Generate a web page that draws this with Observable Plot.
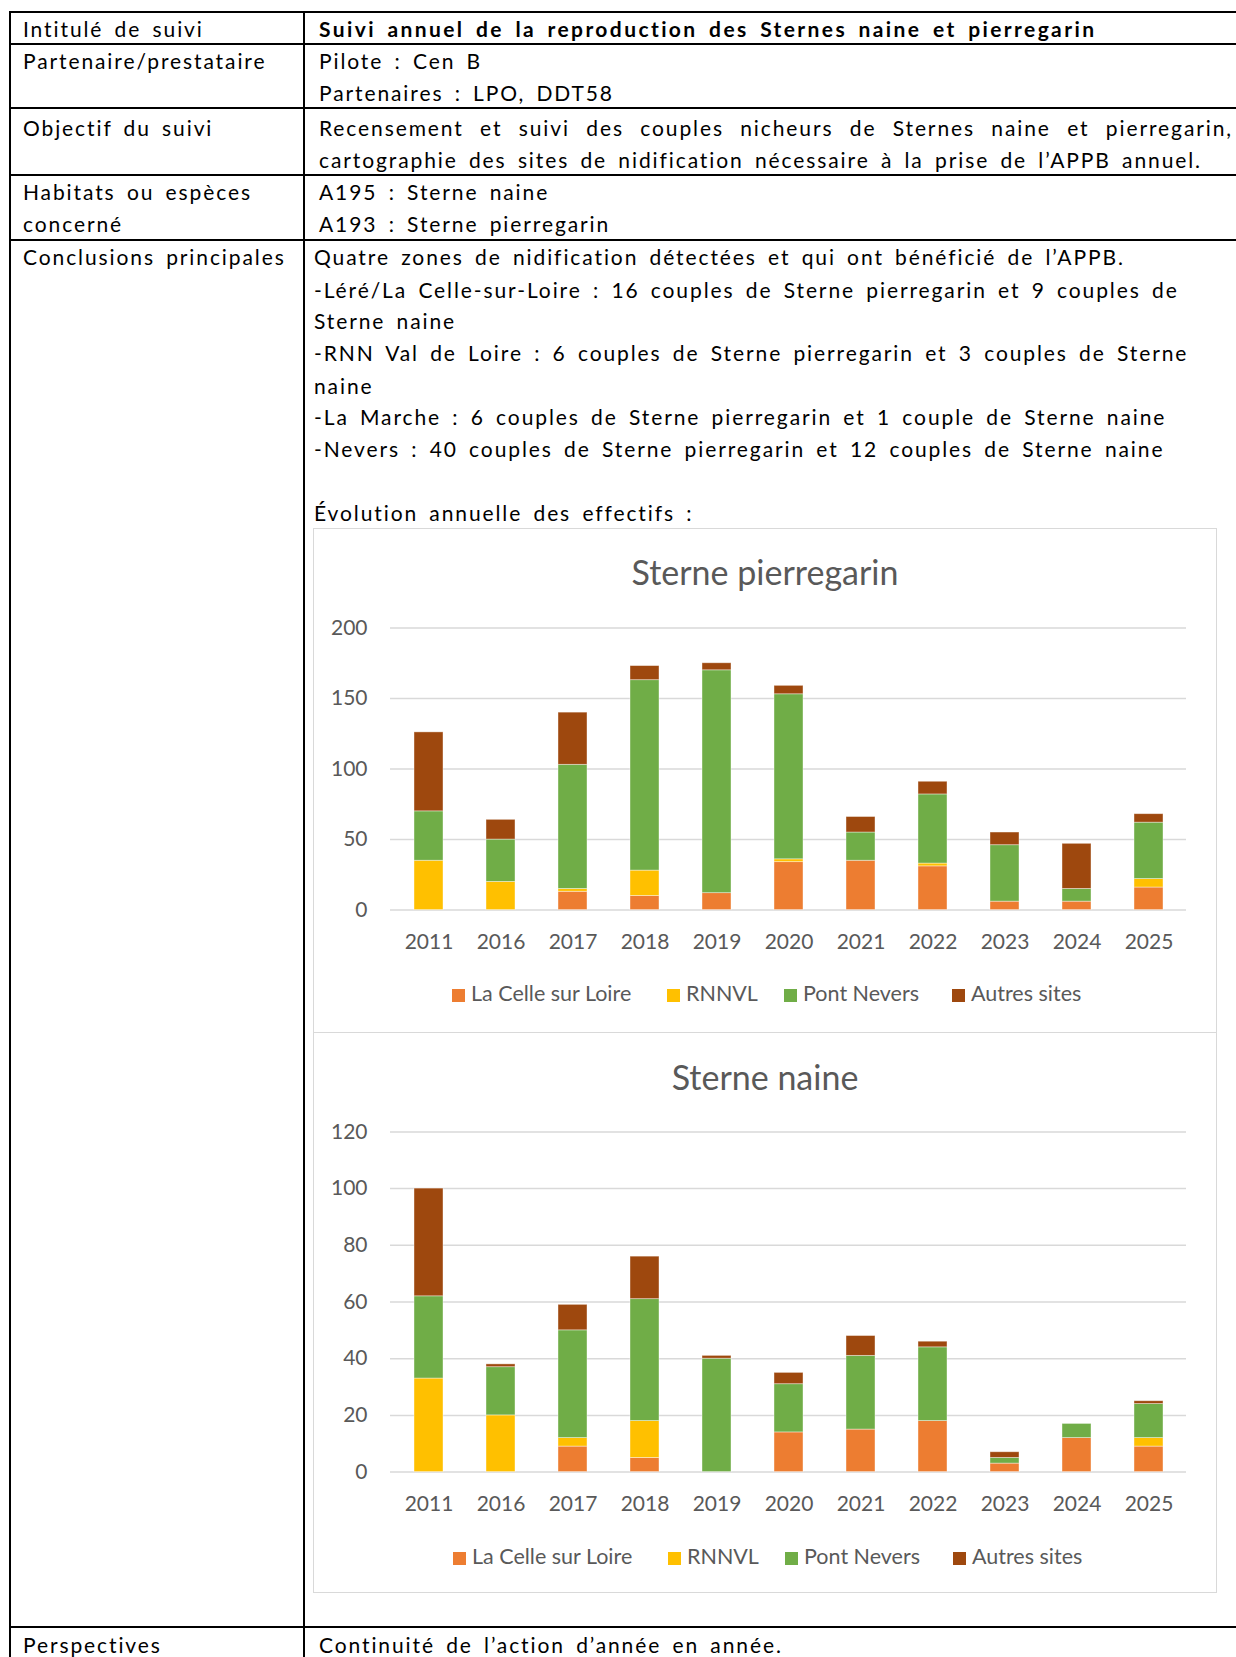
<!DOCTYPE html>
<html>
<head>
<meta charset="utf-8">
<script src="https://cdn.jsdelivr.net/npm/d3@7"></script>
<script src="https://cdn.jsdelivr.net/npm/@observablehq/plot@0.6"></script>
<style>
  html, body { margin: 0; padding: 0; background: #fff; }
  #page { position: relative; width: 1236px; height: 1657px; overflow: hidden; font-family: "Lato", sans-serif; color: #000; }
  .ln { position: absolute; height: 32px; line-height: 32px; font-size: 21px; letter-spacing: 1.9px; word-spacing: 4px; white-space: nowrap; }
  .hline { position: absolute; left: 9px; width: 1240px; height: 2px; background: #000; }
  .vline { position: absolute; width: 2px; background: #000; }
  .frame { position: absolute; border: 1.5px solid #d9d9d9; box-sizing: border-box; background: #fff; }
  .ctitle { position: absolute; left: 313px; width: 904px; text-align: center; font-family: "Lato", sans-serif; font-size: 34px; color: #595959; height: 40px; line-height: 40px; }
  .leg { position: absolute; height: 24px; line-height: 24px; font-family: "Lato", sans-serif; font-size: 21.5px; color: #595959; white-space: nowrap; }
  .leg span.sw { display: inline-block; width: 13px; height: 13px; margin-right: 6px; vertical-align: -1px; }
  .plot { position: absolute; left: 313px; }
</style>
</head>
<body>
<div id="page"></div>
<script>
// ---- data ----
const years = ["2011", "2016", "2017", "2018", "2019", "2020", "2021", "2022", "2023", "2024", "2025"];
const sites = ["La Celle sur Loire", "RNNVL", "Pont Nevers", "Autres sites"];
const siteColors = ["#ED7D31", "#FFC000", "#70AD47", "#9E480E"];

// Sterne pierregarin (couples)
const pierreCelle  = [0, 0, 13, 10, 12, 34, 35, 31, 6, 6, 16];
const pierreRNNVL  = [35, 20, 2, 18, 0, 2, 0, 2, 0, 0, 6];
const pierreNevers = [35, 30, 88, 135, 158, 117, 20, 49, 40, 9, 40];
const pierreAutres = [56, 14, 37, 10, 5, 6, 11, 9, 9, 32, 6];
const pierreTicks  = [0, 50, 100, 150, 200];

// Sterne naine (couples)
const naineCelle  = [0, 0, 9, 5, 0, 14, 15, 18, 3, 12, 9];
const naineRNNVL  = [33, 20, 3, 13, 0, 0, 0, 0, 0, 0, 3];
const naineNevers = [29, 17, 38, 43, 40, 17, 26, 26, 2, 5, 12];
const naineAutres = [38, 1, 9, 15, 1, 4, 7, 2, 2, 0, 1];
const naineTicks  = [0, 20, 40, 60, 80, 100, 120];

// ---- page text ----
const page = document.getElementById("page");
function add(html, cls, style) {
  const d = document.createElement("div");
  d.className = cls;
  d.innerHTML = html;
  Object.assign(d.style, style);
  page.appendChild(d);
  return d;
}
function line(text, x, cy, extra) {
  return add(text, "ln", Object.assign({ left: x + "px", top: (cy - 16) + "px" }, extra || {}));
}

// table lines
[12, 44, 108, 175, 240, 1627].forEach(y => add("", "hline", { top: (y - 1) + "px" }));
add("", "vline", { left: "8.5px", top: "11px", height: "1650px" });
add("", "vline", { left: "303px", top: "11px", height: "1650px" });

// left column
const LX = 23, RX = 319;
line("Intitulé de suivi", LX, 28.5);
line("Partenaire/prestataire", LX, 61.3);
line("Objectif du suivi", LX, 127.8);
line("Habitats ou espèces", LX, 192.3);
line("concerné", LX, 224);
line("Conclusions principales", LX, 256.7);
line("Perspectives", LX, 1645);

// right column
line("Suivi annuel de la reproduction des Sternes naine et pierregarin", RX, 28.5, { fontWeight: "bold", letterSpacing: "2.4px" });
line("Pilote : Cen B", RX, 61.3);
line("Partenaires : LPO, DDT58", RX, 93);
line("Recensement et suivi des couples nicheurs de Sternes naine et pierregarin,", RX, 127.8, { width: (1233 - RX) + "px", textAlign: "justify", textAlignLast: "justify" });
line("cartographie des sites de nidification nécessaire à la prise de l’APPB annuel.", RX, 159.5);
line("A195 : Sterne naine", RX, 192.3);
line("A193 : Sterne pierregarin", RX, 224);
const CX = 314;
line("Quatre zones de nidification détectées et qui ont bénéficié de l’APPB.", CX, 256.7);
line("-Léré/La Celle-sur-Loire : 16 couples de Sterne pierregarin et 9 couples de", CX, 289.5);
line("Sterne naine", CX, 321);
line("-RNN Val de Loire : 6 couples de Sterne pierregarin et 3 couples de Sterne", CX, 352.8);
line("naine", CX, 385.6);
line("-La Marche : 6 couples de Sterne pierregarin et 1 couple de Sterne naine", CX, 417.3);
line("-Nevers : 40 couples de Sterne pierregarin et 12 couples de Sterne naine", CX, 449);
line("Évolution annuelle des effectifs :", CX, 513.4);
line("Continuité de l’action d’année en année.", RX, 1645);

// chart frames
add("", "frame", { left: "313px", top: "528px", width: "904px", height: "505px" });
add("", "frame", { left: "313px", top: "1032px", width: "904px", height: "561px" });

// ---- charts ----
function tidy(a, b, c, d) {
  const rows = [];
  const series = [a, b, c, d];
  years.forEach((y, i) => sites.forEach((s, j) => rows.push({ year: y, site: s, value: series[j][i] })));
  return rows;
}

function chart(data, ticks, top, height, yZero, yMaxPix) {
  const marginTop = yMaxPix - top;
  const marginBottom = top + height - yZero;
  return Plot.plot({
    width: 904,
    height: height,
    marginLeft: 77,
    marginRight: 31,
    marginTop: marginTop,
    marginBottom: marginBottom,
    style: { fontFamily: "Lato, sans-serif", fontSize: "21px", color: "#595959", background: "transparent", overflow: "visible" },
    x: { domain: years, paddingInner: 0.6, paddingOuter: 0.3, label: null },
    y: { domain: [0, ticks[ticks.length - 1]], label: null },
    color: { domain: sites, range: siteColors },
    marks: [
      Plot.ruleY(ticks, { stroke: "#d9d9d9", strokeWidth: 1.5 }),
      Plot.barY(data, Plot.stackY({ x: "year", y: "value", fill: "site", order: sites, stroke: "#fff", strokeOpacity: 0.5, strokeWidth: 0.8 })),
      Plot.axisX({ tickSize: 0, tickPadding: 24, fill: "#595959" }),
      Plot.axisY({ ticks: ticks, tickSize: 0, tickPadding: 23, fill: "#595959" })
    ]
  });
}

function place(svg, top) {
  const wrap = document.createElement("div");
  wrap.className = "plot";
  wrap.style.top = top + "px";
  wrap.appendChild(svg);
  page.appendChild(wrap);
}

const c1top = 600, c1h = 360;
place(chart(tidy(pierreCelle, pierreRNNVL, pierreNevers, pierreAutres), pierreTicks, c1top, c1h, 909.6, 627.5), c1top);
const c2top = 1100, c2h = 422;
place(chart(tidy(naineCelle, naineRNNVL, naineNevers, naineAutres), naineTicks, c2top, c2h, 1471.6, 1131.4), c2top);

// titles
add("Sterne pierregarin", "ctitle", { top: (571.5 - 20) + "px" });
add("Sterne naine", "ctitle", { top: (1076.5 - 20) + "px" });

// legends
function legend(cy, xs) {
  sites.forEach((s, i) => {
    add(`<span class="sw" style="background:${siteColors[i]}"></span>${s}`, "leg", { left: xs[i] + "px", top: (cy - 12) + "px" });
  });
}
legend(993, [452, 667, 784, 952]);
legend(1556, [453, 668, 785, 953]);
</script>
</body>
</html>
